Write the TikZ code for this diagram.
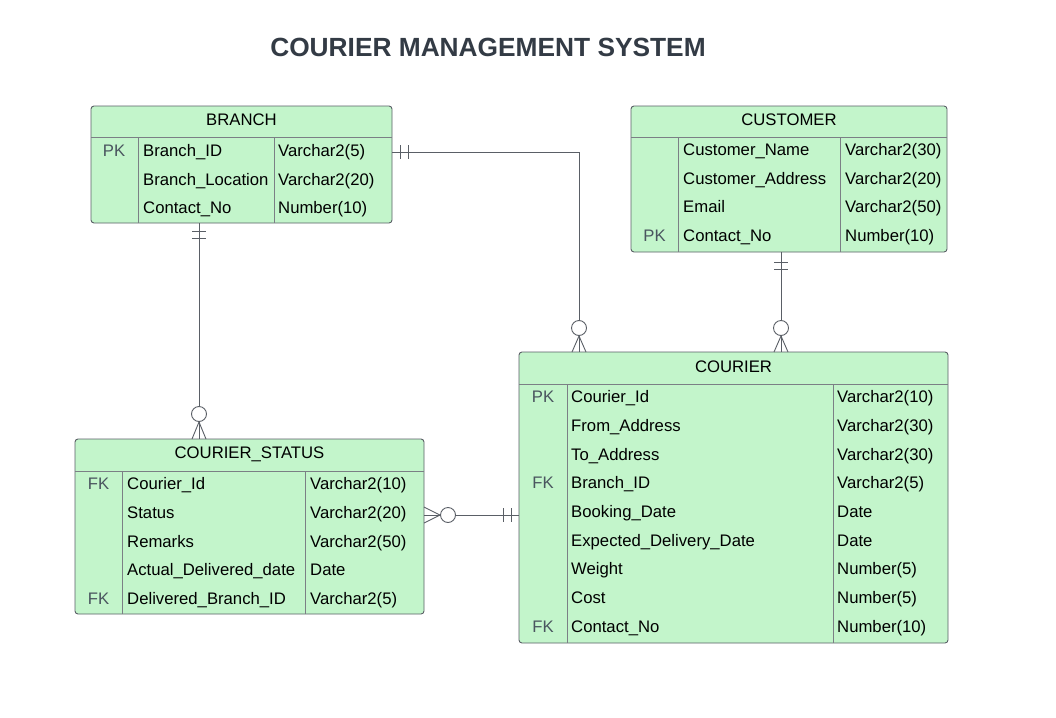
\documentclass[tikz,border=0pt]{standalone}
\usepackage{fontspec}
\setmainfont{Liberation Sans}
\usetikzlibrary{positioning,calc}
\definecolor{erfill}{HTML}{C3F5CB}
\definecolor{erline}{HTML}{5A5F66}
\definecolor{erkey}{HTML}{4A555F}
\definecolor{titlegray}{HTML}{333B45}

\tikzset{
  tbl/.style={draw=erline, fill=erfill, rounded corners=3pt, line width=0.9pt, inner sep=0pt},
  sep/.style={draw=erline!80, line width=0.8pt},
  cell/.style={anchor=west, inner sep=0pt, text height=11.5pt, text depth=0pt, font=\fontsize{16.7}{19}\selectfont},
  key/.style={inner sep=0pt, text height=11.5pt, text depth=0pt, text=erkey, font=\fontsize{16.7}{19}\selectfont},
  head/.style={inner sep=0pt, text height=11.5pt, text depth=0pt, font=\fontsize{16.7}{19}\selectfont},
  rel/.style={draw=erline, line width=0.9pt},
}

\begin{document}
\begin{tikzpicture}[x=1pt, y=-1pt]
    \useasboundingbox[fill=white] (0,0) rectangle (1056,717);
    \node[font=\bfseries\fontsize{26.3}{30}\selectfont, text=titlegray] (title) at (488,47) {COURIER MANAGEMENT SYSTEM};

    % BRANCH
    \node[tbl, minimum width=301pt, minimum height=117pt] (branch) at (241.5,164.5) {};
    \draw[sep] (91,137) -- (392,137);
    \draw[sep] (138,137) -- (138,223);
    \draw[sep] (274,137) -- (274,223);
    \node[head] (branchH) at (241.5,120) {BRANCH};
    \node[key] (branchK1) at (114,151) {PK};
    \node[cell] (branchN1) at (143,151) {Branch\_ID};
    \node[cell] (branchT1) at (278,151) {Varchar2(5)};
    \node[cell] (branchN2) at (143,179.5) {Branch\_Location};
    \node[cell] (branchT2) at (278,179.5) {Varchar2(20)};
    \node[cell] (branchN3) at (143,208) {Contact\_No};
    \node[cell] (branchT3) at (278,208) {Number(10)};

    % CUSTOMER
    \node[tbl, minimum width=316pt, minimum height=146pt] (customer) at (789,179) {};
    \draw[sep] (631,137) -- (947,137);
    \draw[sep] (678,137) -- (678,252);
    \draw[sep] (840,137) -- (840,252);
    \node[head] (customerH) at (789,120) {CUSTOMER};
    \node[cell] (customerN1) at (683,150) {Customer\_Name};
    \node[cell] (customerT1) at (845,150) {Varchar2(30)};
    \node[cell] (customerN2) at (683,178.5) {Customer\_Address};
    \node[cell] (customerT2) at (845,178.5) {Varchar2(20)};
    \node[cell] (customerN3) at (683,207) {Email};
    \node[cell] (customerT3) at (845,207) {Varchar2(50)};
    \node[key] (customerK4) at (654.5,236) {PK};
    \node[cell] (customerN4) at (683,236) {Contact\_No};
    \node[cell] (customerT4) at (845,236) {Number(10)};

    % COURIER
    \node[tbl, minimum width=429pt, minimum height=291pt] (courier) at (733.5,497.5) {};
    \draw[sep] (519,384) -- (948,384);
    \draw[sep] (567,384) -- (567,643);
    \draw[sep] (833,384) -- (833,643);
    \node[head] (courierH) at (733.5,367) {COURIER};
    \node[key] (courierK1) at (543,397) {PK};
    \node[cell] (courierN1) at (571,397) {Courier\_Id};
    \node[cell] (courierT1) at (837,397) {Varchar2(10)};
    \node[cell] (courierN2) at (571,425.7) {From\_Address};
    \node[cell] (courierT2) at (837,425.7) {Varchar2(30)};
    \node[cell] (courierN3) at (571,454.4) {To\_Address};
    \node[cell] (courierT3) at (837,454.4) {Varchar2(30)};
    \node[key] (courierK4) at (543,483.1) {FK};
    \node[cell] (courierN4) at (571,483.1) {Branch\_ID};
    \node[cell] (courierT4) at (837,483.1) {Varchar2(5)};
    \node[cell] (courierN5) at (571,511.8) {Booking\_Date};
    \node[cell] (courierT5) at (837,511.8) {Date};
    \node[cell] (courierN6) at (571,540.5) {Expected\_Delivery\_Date};
    \node[cell] (courierT6) at (837,540.5) {Date};
    \node[cell] (courierN7) at (571,569.2) {Weight};
    \node[cell] (courierT7) at (837,569.2) {Number(5)};
    \node[cell] (courierN8) at (571,597.9) {Cost};
    \node[cell] (courierT8) at (837,597.9) {Number(5)};
    \node[key] (courierK9) at (543,626.6) {FK};
    \node[cell] (courierN9) at (571,626.6) {Contact\_No};
    \node[cell] (courierT9) at (837,626.6) {Number(10)};

    % COURIER_STATUS
    \node[tbl, minimum width=349pt, minimum height=175pt] (status) at (249.5,526.5) {};
    \draw[sep] (75,471) -- (424,471);
    \draw[sep] (122,471) -- (122,614);
    \draw[sep] (305,471) -- (305,614);
    \node[head] (statusH) at (249.5,453) {COURIER\_STATUS};
    \node[key] (statusK1) at (98.5,484) {FK};
    \node[cell] (statusN1) at (127,484) {Courier\_Id};
    \node[cell] (statusT1) at (310,484) {Varchar2(10)};
    \node[cell] (statusN2) at (127,512.7) {Status};
    \node[cell] (statusT2) at (310,512.7) {Varchar2(20)};
    \node[cell] (statusN3) at (127,541.4) {Remarks};
    \node[cell] (statusT3) at (310,541.4) {Varchar2(50)};
    \node[cell] (statusN4) at (127,570.1) {Actual\_Delivered\_date};
    \node[cell] (statusT4) at (310,570.1) {Date};
    \node[key] (statusK5) at (98.5,598.8) {FK};
    \node[cell] (statusN5) at (127,598.8) {Delivered\_Branch\_ID};
    \node[cell] (statusT5) at (310,598.8) {Varchar2(5)};

    % connector ends
    \coordinate (brS) at (199,223);
    \coordinate (stN) at (199,439);
    \coordinate (brE) at (392,152);
    \coordinate (brBend) at (579,152);
    \coordinate (coW) at (579,352);
    \coordinate (cuS) at (781,252);
    \coordinate (coE) at (781,352);
    \coordinate (stE) at (424,515);
    \coordinate (coL) at (519,515);

    % BRANCH -- COURIER_STATUS
    \draw[rel] (brS) -- (stN);
    \draw[rel] (192,231) -- (206,231);
    \draw[rel] (192,238) -- (206,238);
    \draw[rel] (192,439) -- (199,422) -- (206,439);
    \draw[rel, fill=white] (199,414) circle (7.5pt);

    % BRANCH -- COURIER
    \draw[rel] (brE) -- (brBend) -- (coW);
    \draw[rel] (400,145) -- (400,159);
    \draw[rel] (408,145) -- (408,159);
    \draw[rel] (572,352) -- (579,336) -- (586,352);
    \draw[rel, fill=white] (579,328) circle (7.5pt);

    % CUSTOMER -- COURIER
    \draw[rel] (cuS) -- (coE);
    \draw[rel] (774,262) -- (788,262);
    \draw[rel] (774,269) -- (788,269);
    \draw[rel] (774,352) -- (781,336) -- (788,352);
    \draw[rel, fill=white] (781,328) circle (7.5pt);

    % COURIER_STATUS -- COURIER
    \draw[rel] (stE) -- (coL);
    \draw[rel] (424,507) -- (440,515) -- (424,523);
    \draw[rel, fill=white] (448,515) circle (7.5pt);
    \draw[rel] (503,508) -- (503,522);
    \draw[rel] (511,508) -- (511,522);
\end{tikzpicture}
\end{document}
